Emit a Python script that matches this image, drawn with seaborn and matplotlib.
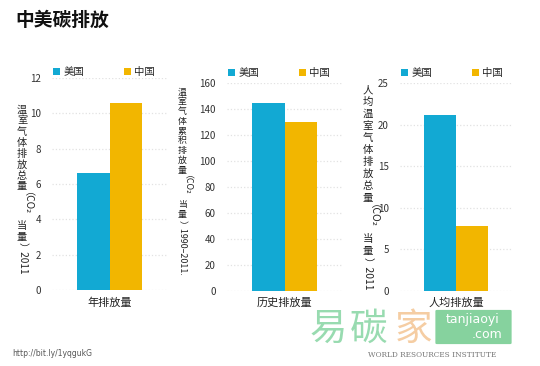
import numpy as np
import pandas as pd
import seaborn as sns
import matplotlib.pyplot as plt
from matplotlib.patches import FancyBboxPatch

categories = ['年排放量', '历史排放量', '人均排放量']
countries = ['美国', '中国']
annual = [6.6, 10.6]
historical = [145, 130]
per_capita = [21.1, 7.8]

blue = '#12a9d3'
yellow = '#f2b600'

sns.set_theme(style='white')
plt.rcParams['font.family'] = ['Noto Sans CJK SC', 'DejaVu Sans']

W, H = 540, 366
fig = plt.figure(figsize=(5.4, 3.66), dpi=100)
fig.patch.set_facecolor('white')


def px(x, y):
    return x / W, 1 - y / H


def vlabel(x, y, tokens, step, fs):
    # stacked vertical label: CJK upright, latin runs turned sideways
    r = fig.canvas.get_renderer()
    for tok, rot in tokens:
        if rot:
            t = fig.text(*px(x, y), tok, rotation=-90, ha='center', va='top',
                         fontsize=fs, color='#222')
            y += t.get_window_extent(r).height
        else:
            for ch in tok:
                fig.text(*px(x, y + step / 2), ch, ha='center', va='center',
                         fontsize=fs, color='#222')
                y += step


panels = [
    dict(cat=categories[0], vals=annual, box=(52, 78, 167, 290), ymax=12, dt=2,
         lab=[('温室气体排放总量', 0), ('（CO₂', 1), ('当量', 0), ('）2011', 1)],
         lx=22, ly=104, step=11, fs=7.3, leg=1.0),
    dict(cat=categories[1], vals=historical, box=(227, 83, 342, 291), ymax=160, dt=20,
         lab=[('温室气体累积排放量', 0), ('（CO₂', 1), ('当量', 0), ('）1990–2011.', 1)],
         lx=182, ly=87, step=9.8, fs=6.4, leg=1.02),
    dict(cat=categories[2], vals=per_capita, box=(400, 83, 512, 291), ymax=25, dt=5,
         lab=[('人均温室气体排放总量', 0), ('（CO₂', 1), ('当量', 0), ('）2011', 1)],
         lx=368, ly=84, step=12, fs=7.5, leg=1.02),
]

for p in panels:
    x0, y0, x1, y1 = p['box']
    ax = fig.add_axes([x0 / W, 1 - y1 / H, (x1 - x0) / W, (y1 - y0) / H])
    df = pd.DataFrame({'类别': [p['cat']] * 2, '国家': countries, '值': p['vals']})
    sns.barplot(data=df, x='类别', y='值', hue='国家', palette=[blue, yellow],
                width=0.8, gap=0, saturation=1, linewidth=0, ax=ax)
    ax.set_xlim(-0.707, 0.707)
    ax.set_ylim(0, p['ymax'])
    ax.set_yticks(np.arange(0, p['ymax'] + 1, p['dt']))
    ax.grid(axis='y', color='#e2e2e2', ls=':', lw=0.9)
    ax.set_axisbelow(True)
    sns.despine(ax=ax, left=True, bottom=True)
    ax.set_xlabel('')
    ax.set_ylabel('')
    ax.tick_params(axis='y', length=0, labelsize=7, colors='#333', pad=8)
    ax.tick_params(axis='x', length=0, labelsize=8, colors='#222', pad=5)
    sns.move_legend(ax, 'lower left', bbox_to_anchor=(0.0, p['leg']), ncol=2,
                    frameon=False, title=None, fontsize=7.5, handlelength=0.7,
                    handleheight=0.7, handletextpad=0.3, columnspacing=3.8,
                    borderaxespad=0, borderpad=0.1)
    vlabel(p['lx'], p['ly'], p['lab'], p['step'], p['fs'])

fig.text(*px(15, 20), '中美碳排放', fontsize=13.5, weight='bold', color='#111', va='center')
fig.text(*px(12, 354), 'http://bit.ly/1yqgukG', fontsize=5.5, color='#555',
         va='center', family='DejaVu Sans')

# watermark
fig.text(*px(310, 329), '易', fontsize=27, color='#98dbb0', va='center')
fig.text(*px(350, 329), '碳', fontsize=27, color='#98dbb0', va='center')
fig.text(*px(395, 329), '家', fontsize=27, color='#f5cda3', va='center')
bx, by = px(437, 343)
fig.patches.append(FancyBboxPatch((bx, by), 73 / W, 32 / H, boxstyle='round,pad=0.003',
                                  transform=fig.transFigure, fc='#86d29e', ec='none'))
fig.text(*px(473, 320), 'tanjiaoyi', fontsize=9, color='white', ha='center', va='center',
         family='DejaVu Sans')
fig.text(*px(487, 334), '.com', fontsize=9, color='white', ha='center', va='center',
         family='DejaVu Sans')
fig.text(*px(368, 355), 'WORLD RESOURCES INSTITUTE', fontsize=5.3, color='#777',
         va='center', family='DejaVu Serif')

fig.savefig('out.png', dpi=100)
